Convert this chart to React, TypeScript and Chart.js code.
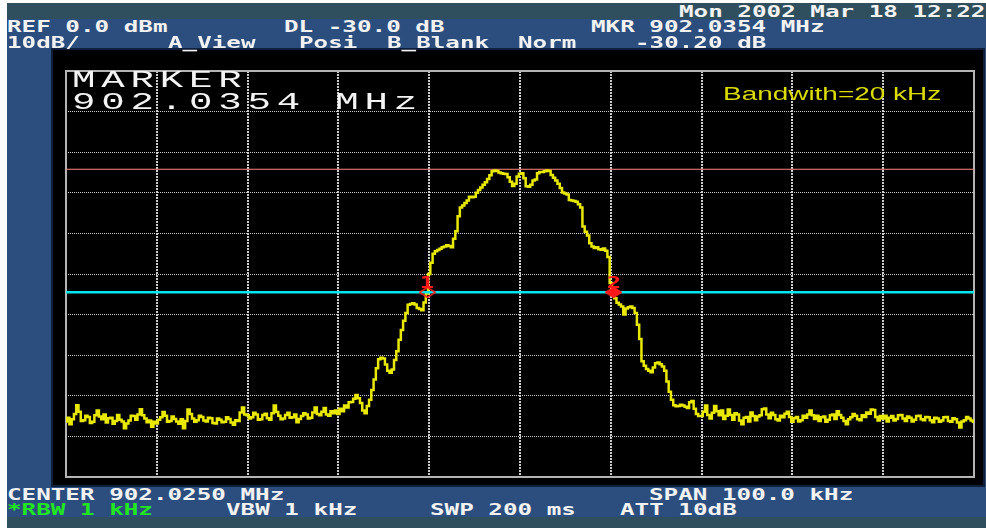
import React, { useEffect, useRef, useState } from "react";
import { Chart, registerables } from "chart.js";

Chart.register(...registerables);

// ---- Data (offset from span start, kHz; levels in dBm) ----
const SPAN_MIN_KHZ = 0;
const SPAN_MAX_KHZ = 100;
const FREQ_STEP_KHZ = 0.25;
const DIV_KHZ = 10;
const LEVEL_MIN_DB = -100;
const LEVEL_MAX_DB = 0;
const DIV_DB = 10;

// 0 .. 29.75 kHz
const noiseLeft = [
  -86.3, -85.4, -87.0, -85.8, -84.5, -82.3, -83.9, -86.2, -86.0, -84.9,
  -85.2, -86.7, -86.4, -84.8, -83.6, -85.1, -85.8, -84.6, -86.6, -85.5,
  -85.4, -86.9, -86.2, -84.7, -85.9, -86.3, -88.0, -86.8, -86.1, -84.9,
  -85.0, -85.9, -84.6, -83.3, -84.8, -85.6, -86.5, -86.1, -87.6, -86.4,
  -86.8, -85.9, -85.3, -84.0, -84.9, -86.4, -86.2, -85.1, -85.7, -86.3,
  -86.9, -85.8, -88.0, -86.2, -83.4, -84.5, -85.6, -86.4, -86.0, -84.9,
  -85.2, -86.1, -86.3, -85.4, -85.5, -86.7, -86.8, -85.6, -85.9, -86.5,
  -86.4, -85.3, -85.7, -86.6, -87.1, -86.0, -86.2, -84.1, -82.9, -84.6,
  -84.8, -85.6, -85.3, -84.2, -84.6, -85.9, -85.8, -84.7, -84.4, -85.5,
  -85.9, -84.3, -82.4, -84.0, -84.9, -85.8, -85.6, -84.7, -84.2, -85.4,
  -85.3, -84.6, -86.5, -85.7, -85.0, -84.3, -84.6, -85.6, -85.4, -84.1,
  -82.9, -84.5, -84.8, -83.9, -83.0, -84.6, -84.9, -83.8, -84.3, -83.6,
];
// 30 .. 69.75 kHz
const signalBand = [
  -84.5, -83.2, -83.8, -82.4, -82.9, -81.6, -81.5, -80.7, -79.8, -80.6,
  -81.8, -83.6, -84.3, -82.5, -81.0, -78.6, -76.0, -73.2, -71.0, -70.6,
  -70.8, -72.3, -73.8, -74.3, -73.5, -71.2, -69.0, -66.2, -63.8, -61.5,
  -59.6, -57.6, -57.4, -57.2, -57.5, -58.4, -58.6, -58.9, -57.0, -54.8,
  -50.0, -47.2, -45.0, -44.4, -44.1, -43.8, -43.4, -43.2, -42.9, -43.1,
  -43.4, -41.3, -39.5, -35.8, -33.6, -33.1, -32.5, -31.9, -31.0, -31.1,
  -31.0, -30.0, -29.3, -28.7, -28.0, -27.4, -26.6, -25.7, -24.7, -24.5,
  -24.6, -25.0, -25.2, -25.3, -25.4, -26.2, -27.3, -28.3, -27.8, -26.0,
  -25.3, -25.2, -26.4, -28.4, -28.5, -28.0, -27.0, -26.7, -25.2, -24.9,
  -24.9, -24.7, -24.5, -24.6, -25.6, -26.3, -27.0, -27.8, -28.8, -29.9,
  -30.2, -30.4, -31.8, -31.9, -32.0, -32.2, -32.8, -33.6, -38.3, -39.6,
  -40.5, -42.4, -43.2, -43.6, -43.4, -43.9, -44.0, -43.7, -44.3, -45.8,
  -52.2, -54.6, -56.0, -57.1, -57.5, -58.0, -60.0, -58.5, -58.2, -58.0,
  -58.4, -59.6, -62.5, -66.0, -71.5, -72.6, -73.4, -73.8, -74.2, -73.0,
  -72.0, -71.8, -72.2, -72.8, -73.8, -76.5, -79.0, -81.0, -82.3, -82.6,
  -82.5, -82.2, -82.4, -82.7, -83.0, -81.6, -81.3, -83.2, -84.5, -85.0,
];
// 70 .. 100 kHz
const noiseRight = [
  -85.0, -83.9, -82.4, -84.7, -85.6, -84.2, -82.5, -83.8, -84.8, -83.6,
  -85.7, -84.9, -83.4, -84.7, -85.9, -84.3, -84.6, -86.1, -87.0, -85.4,
  -85.2, -86.3, -84.1, -85.0, -86.0, -85.1, -84.8, -83.3, -83.1, -84.6,
  -85.5, -84.2, -84.7, -85.8, -86.1, -84.9, -85.3, -84.4, -83.9, -85.2,
  -86.4, -85.5, -85.2, -86.3, -86.0, -84.9, -85.4, -84.6, -83.6, -84.8,
  -85.7, -84.9, -86.2, -85.3, -85.1, -86.4, -85.9, -84.8, -84.6, -85.7,
  -83.8, -84.7, -85.4, -86.2, -87.0, -85.8, -85.3, -84.5, -84.9, -85.8,
  -86.0, -84.8, -85.2, -84.1, -84.4, -83.4, -83.5, -85.2, -86.1, -85.0,
  -85.6, -84.9, -86.3, -85.4, -85.0, -86.1, -85.7, -84.8, -84.7, -85.6,
  -86.2, -85.1, -85.4, -86.3, -85.9, -85.0, -84.9, -85.8, -86.0, -85.2,
  -85.3, -86.0, -86.5, -85.4, -85.6, -86.4, -86.1, -85.3, -85.2, -86.2,
  -86.4, -85.5, -85.8, -86.6, -87.8, -86.3, -86.0, -85.2, -85.6, -86.1,
  -86.4,
];
const traceLevels = [...noiseLeft, ...signalBand, ...noiseRight];

const peakLevelDb = -24.2;
const displayLineDb = -54.5;
const markerFreqsKHz = [39.8, 60.3];
const markerLabels = ["1", "2"];

// ---- Texts ----
const headerRow1 = [
  { col: 0, text: "REF 0.0 dBm" },
  { col: 19, text: "DL -30.0 dB" },
  { col: 40, text: "MKR 902.0354 MHz" },
];
const headerRow2 = [
  { col: 0, text: "10dB/" },
  { col: 11, text: "A_View" },
  { col: 20, text: "Posi" },
  { col: 26, text: "B_Blank" },
  { col: 35, text: "Norm" },
  { col: 43, text: "-30.20 dB" },
];
const dateRow = [{ col: 46, text: "Mon 2002 Mar 18 12:22" }];
const footerRow1 = [
  { col: 0, text: "CENTER 902.0250 MHz" },
  { col: 44, text: "SPAN 100.0 kHz" },
];
const footerRow2 = [
  { col: 0, text: "*RBW 1 kHz", green: true },
  { col: 15, text: "VBW 1 kHz" },
  { col: 29, text: "SWP 200 ms" },
  { col: 42, text: "ATT 10dB" },
];

const PITCH = 14.6;
const CANVAS_LEFT = 53;
const CANVAS_TOP = 50;

function makeDiamond(filled: boolean): HTMLCanvasElement {
  const c = document.createElement("canvas");
  c.width = 17;
  c.height = 11;
  const g = c.getContext("2d")!;
  g.beginPath();
  g.moveTo(8.5, 0.5);
  g.lineTo(16.5, 5.5);
  g.lineTo(8.5, 10.5);
  g.lineTo(0.5, 5.5);
  g.closePath();
  if (filled) {
    g.fillStyle = "#ff1616";
    g.fill();
  }
  g.strokeStyle = "#ff2020";
  g.lineWidth = 1.5;
  g.stroke();
  return c;
}

const framePlugin = {
  id: "frame",
  beforeDatasetsDraw(chart: any) {
    const { ctx, chartArea: a } = chart;
    ctx.save();
    ctx.strokeStyle = "#b4b4b4";
    ctx.lineWidth = 2;
    ctx.strokeRect(a.left, a.top, a.right - a.left, a.bottom - a.top);
    ctx.restore();
  },
};

function Mono({ items, top }: { items: any[]; top: number }) {
  return (
    <>
      {items.map((it, i) => (
        <div
          key={i}
          style={{
            position: "absolute",
            left: 7 + it.col * PITCH,
            top,
            fontFamily: '"DejaVu Sans Mono", monospace',
            fontWeight: "bold",
            fontSize: 15,
            lineHeight: "15px",
            color: it.green ? "#22e622" : "#f2f2f2",
            whiteSpace: "pre",
            transform: "scaleX(1.616)",
            transformOrigin: "0 0",
          }}
        >
          {it.text}
        </div>
      ))}
    </>
  );
}

export default function App() {
  const ref = useRef<HTMLCanvasElement>(null);
  const [labelPos, setLabelPos] = useState<{ x: number; y: number }[]>([]);

  useEffect(() => {
    const canvas = ref.current!;
    const points = traceLevels.map((y, i) => ({ x: SPAN_MIN_KHZ + i * FREQ_STEP_KHZ, y }));
    const diamonds = [makeDiamond(false), makeDiamond(true)];
    const gridColor = (c: any) =>
      c.index === 0 || c.index === 10 ? "rgba(0,0,0,0)" : "rgba(215,215,215,0.95)";
    const chart = new Chart(canvas, {
      type: "line",
      data: {
        datasets: [
          {
            label: "Markers",
            data: markerFreqsKHz.map((f) => ({ x: f, y: displayLineDb })),
            showLine: false,
            pointStyle: diamonds as any,
            pointRadius: 6,
            order: 0,
          },
          {
            label: "Display line",
            data: [
              { x: SPAN_MIN_KHZ, y: displayLineDb },
              { x: SPAN_MAX_KHZ, y: displayLineDb },
            ],
            borderColor: "#00e6ee",
            borderWidth: 2.5,
            pointRadius: 0,
            order: 1,
          },
          {
            label: "Trace",
            data: points,
            borderColor: "#e8e800",
            borderWidth: 2.5,
            pointRadius: 0,
            stepped: "middle",
            order: 2,
          },
          {
            label: "Peak",
            data: [
              { x: SPAN_MIN_KHZ, y: peakLevelDb },
              { x: SPAN_MAX_KHZ, y: peakLevelDb },
            ],
            borderColor: "#ff8c84",
            borderWidth: 1,
            pointRadius: 0,
            order: 3,
          },
        ],
      },
      options: {
        animation: false,
        responsive: false,
        events: [],
        layout: { padding: { left: 13, top: 21, right: 9, bottom: 8 } },
        plugins: { legend: { display: false }, tooltip: { enabled: false } },
        scales: {
          x: {
            type: "linear",
            min: SPAN_MIN_KHZ,
            max: SPAN_MAX_KHZ,
            ticks: { display: false, stepSize: DIV_KHZ },
            grid: { color: gridColor, lineWidth: 2, drawTicks: false },
            border: { display: false, dash: [2, 1] },
            afterFit: (s: any) => {
              s.height = 0;
            },
          },
          y: {
            type: "linear",
            min: LEVEL_MIN_DB,
            max: LEVEL_MAX_DB,
            ticks: { display: false, stepSize: DIV_DB },
            grid: { color: gridColor, lineWidth: 1, drawTicks: false },
            border: { display: false, dash: [1, 1] },
            afterFit: (s: any) => {
              s.width = 0;
            },
          },
        },
      } as any,
      plugins: [framePlugin],
    });
    const xs = chart.scales.x;
    const ys = chart.scales.y;
    setLabelPos(
      markerFreqsKHz.map((f) => ({
        x: CANVAS_LEFT + xs.getPixelForValue(f),
        y: CANVAS_TOP + ys.getPixelForValue(displayLineDb),
      }))
    );
    return () => chart.destroy();
  }, []);

  return (
    <div
      style={{
        position: "absolute",
        left: 0,
        top: 0,
        width: 986,
        height: 528,
        background: "#ffffff",
        overflow: "hidden",
      }}
    >
      <div style={{ position: "absolute", left: 7, top: 3, width: 979, height: 16, background: "#2f4f5e" }} />
      <div style={{ position: "absolute", left: 7, top: 19, width: 979, height: 498, background: "#2c4e7e" }} />
      <div style={{ position: "absolute", left: 7, top: 517, width: 979, height: 11, background: "#2f4f5e" }} />
      <div style={{ position: "absolute", left: 51, top: 48, width: 934, height: 439, background: "#0f1f3a" }} />
      <canvas
        ref={ref}
        width={930}
        height={435}
        style={{ position: "absolute", left: CANVAS_LEFT, top: CANVAS_TOP, width: 930, height: 435, background: "#000" }}
      />
      {labelPos.map((p, i) => (
        <div
          key={i}
          style={{
            position: "absolute",
            left: p.x - 12,
            top: p.y - 17,
            width: 24,
            textAlign: "center",
            fontFamily: '"DejaVu Sans Mono", monospace',
            fontWeight: "bold",
            fontSize: 16,
            lineHeight: "16px",
            color: "#ff1a1a",
            transform: "scaleX(1.5)",
            transformOrigin: "50% 50%",
          }}
        >
          {markerLabels[i]}
        </div>
      ))}
      <Mono items={dateRow} top={5} />
      <Mono items={headerRow1} top={20} />
      <Mono items={headerRow2} top={36} />
      <Mono items={footerRow1} top={488} />
      <Mono items={footerRow2} top={503} />
      <div
        style={{
          position: "absolute",
          left: 72,
          top: 70,
          fontFamily: '"Liberation Mono", monospace',
          fontSize: 23,
          lineHeight: "22px",
          letterSpacing: 3.4,
          color: "#f4f4f4",
          whiteSpace: "pre",
          transform: "scaleX(1.7)",
          transformOrigin: "0 0",
        }}
      >
        <div>MARKER</div>
        <div>902.0354 MHz</div>
      </div>
      <div
        style={{
          position: "absolute",
          left: 723,
          top: 84,
          fontFamily: '"Liberation Sans", Arial, sans-serif',
          fontSize: 19,
          lineHeight: "19px",
          color: "#dcdc00",
          whiteSpace: "pre",
          transform: "scaleX(1.47)",
          transformOrigin: "0 0",
        }}
      >
        Bandwith=20 kHz
      </div>
    </div>
  );
}
